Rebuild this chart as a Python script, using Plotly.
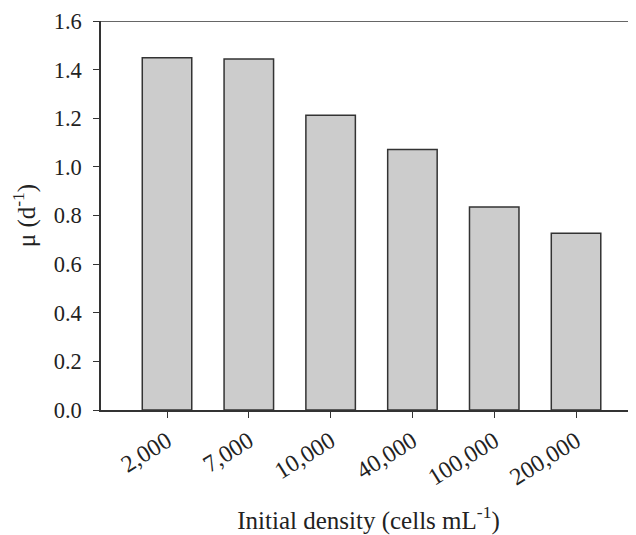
import plotly.graph_objects as go

categories = ["2,000", "7,000", "10,000", "40,000", "100,000", "200,000"]
mu_values = [1.449, 1.444, 1.212, 1.071, 0.835, 0.727]
y_ticks = [0.0, 0.2, 0.4, 0.6, 0.8, 1.0, 1.2, 1.4, 1.6]

FONT = "Liberation Serif, Times New Roman, serif"

fig = go.Figure()
fig.add_trace(go.Bar(
    x=list(range(len(categories))),
    y=mu_values,
    width=0.605,
    marker=dict(color="#cccccc", line=dict(color="#333333", width=1.5)),
))

# page body has an 8px margin; figure is shrunk so the layout lands where the reference has it
fig.update_layout(
    width=628, height=527,
    margin=dict(l=93, r=0, t=13, b=124.5),
    paper_bgcolor="white", plot_bgcolor="white",
    showlegend=False,
    font=dict(family=FONT, size=22, color="#222222"),
    shapes=[dict(type="line", xref="paper", yref="y", x0=0, x1=1, y0=1.6, y1=1.6,
                 line=dict(color="#333333", width=1.5))],
)
fig.update_xaxes(
    range=[-0.807, 5.733],
    tickmode="array", tickvals=list(range(len(categories))), ticktext=categories,
    tickangle=-32, ticks="outside", ticklen=6, tickwidth=1.2, tickcolor="#333333",
    showline=True, linecolor="#333333", linewidth=1.5,
    showgrid=False, zeroline=False,
    tickfont=dict(family=FONT, size=24),
    title=dict(text="Initial density (cells mL<sup>-1</sup>)", font=dict(family=FONT, size=25), standoff=28),
)
fig.update_yaxes(
    range=[0, 1.6],
    tickmode="array", tickvals=y_ticks, ticktext=[f"{v:.1f}" for v in y_ticks],
    ticks="outside", ticklen=6, tickwidth=1.2, tickcolor="#333333",
    ticklabelstandoff=7,
    showline=True, linecolor="#333333", linewidth=1.5,
    showgrid=False, zeroline=False,
    tickfont=dict(family=FONT, size=22.5),
    title=dict(text="μ (d<sup>-1</sup>)", font=dict(family=FONT, size=25), standoff=19),
)

fig.write_html("out.html")
